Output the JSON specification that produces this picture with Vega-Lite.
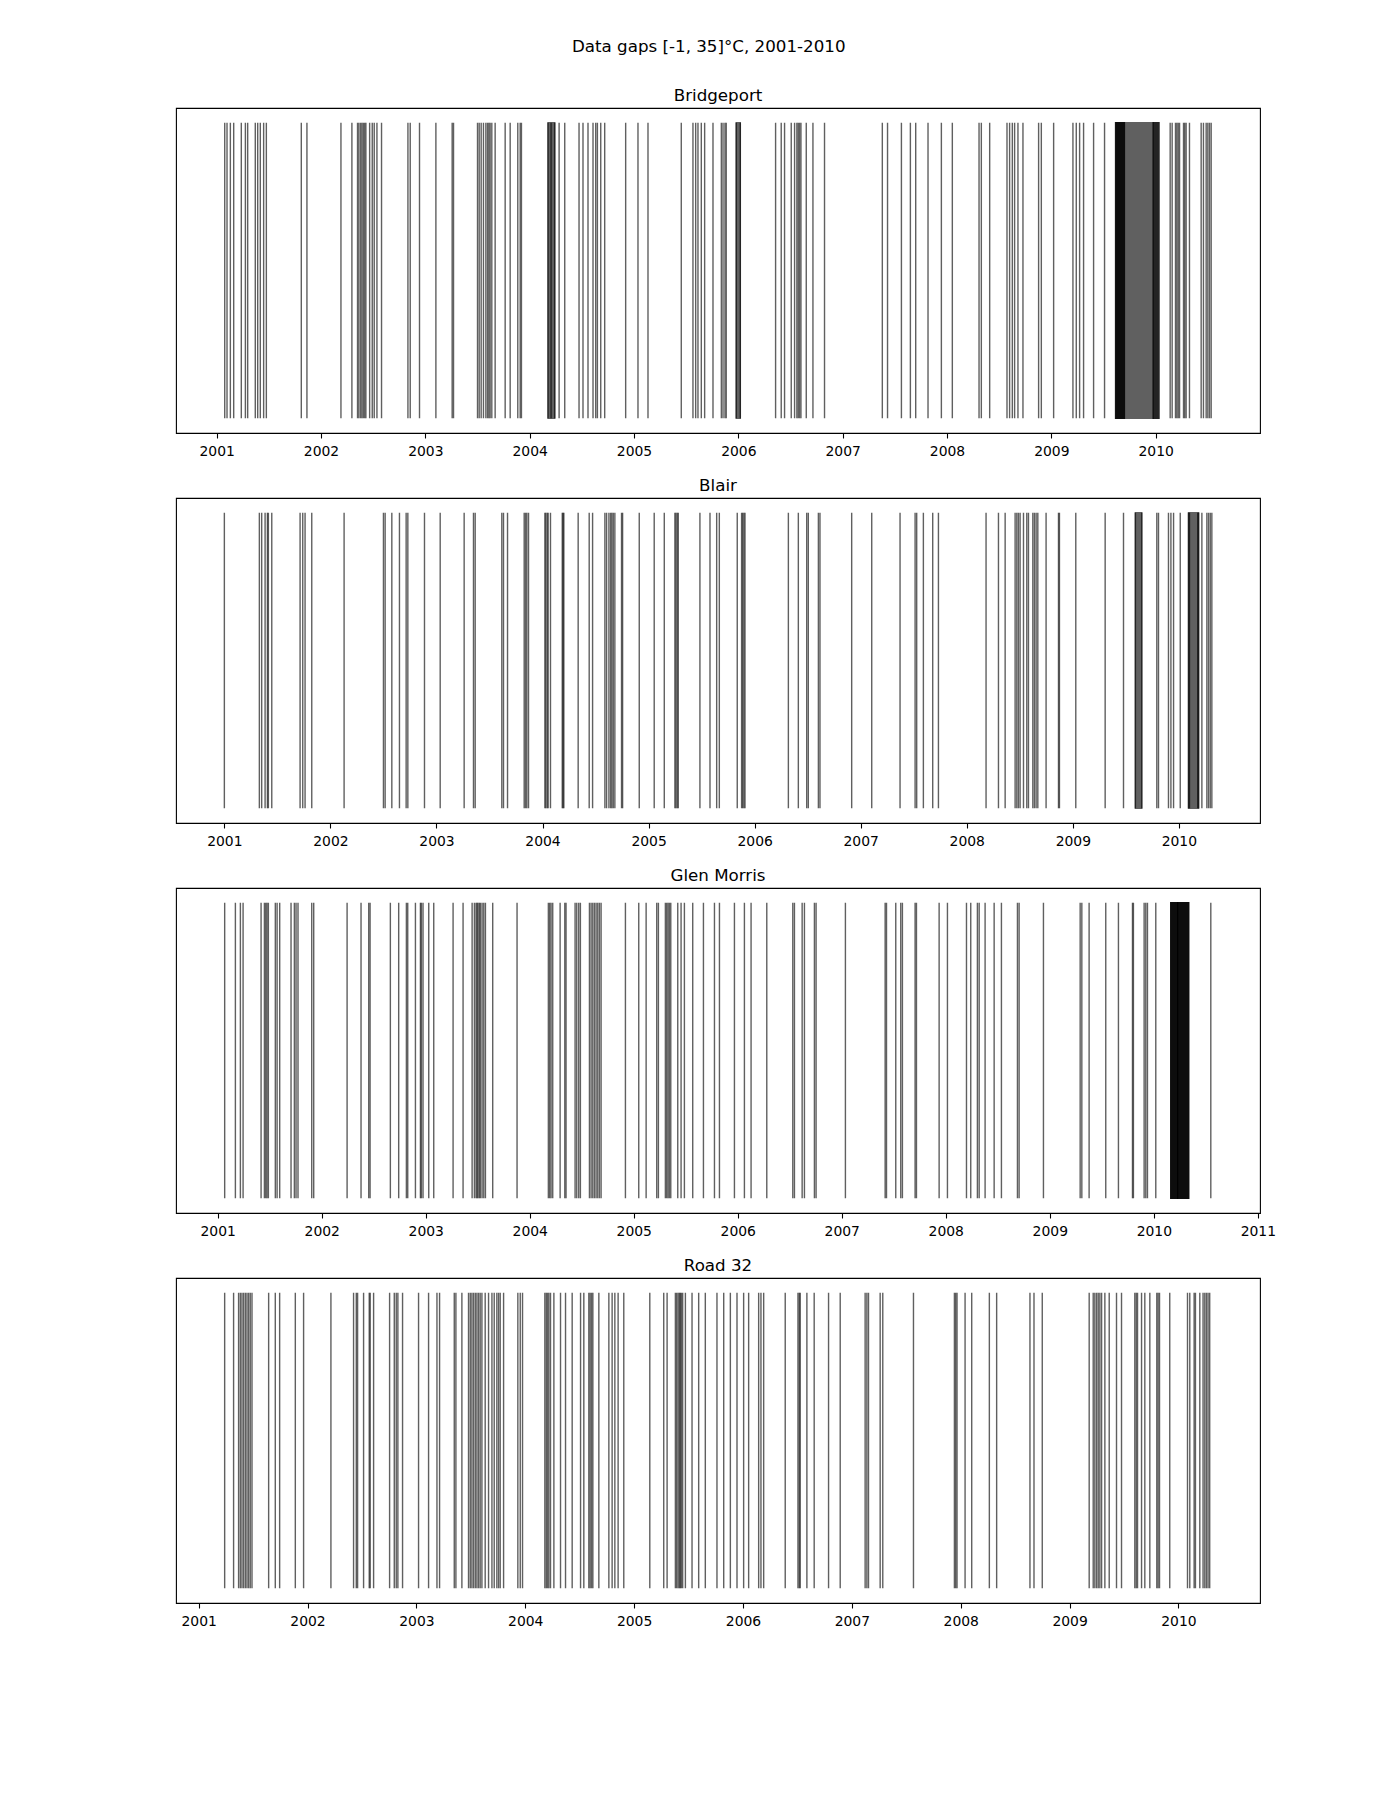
{
  "$schema": "https://vega.github.io/schema/vega-lite/v6.json",
  "background": "white",
  "padding": {"left": 175, "top": 38, "right": 0, "bottom": 0},
  "title": {"text": "Data gaps [-1, 35]°C, 2001-2010", "fontSize": 16.7, "fontWeight": "normal", "font": "DejaVu Sans", "anchor": "middle", "baseline": "alphabetic", "offset": 18.6, "dx": -17, "color": "black"},
  "datasets": {
    "bridgeport": [
      {"start":2001.077,"end":2001.077},{"start":2001.099,"end":2001.099},{"start":2001.131,"end":2001.131},{"start":2001.163,"end":2001.163},{"start":2001.236,"end":2001.236},{"start":2001.275,"end":2001.275},{"start":2001.297,"end":2001.297},{"start":2001.370,"end":2001.370},{"start":2001.393,"end":2001.393},{"start":2001.418,"end":2001.418},{"start":2001.450,"end":2001.450},{"start":2001.476,"end":2001.476},{"start":2001.811,"end":2001.811},{"start":2001.865,"end":2001.865},{"start":2002.191,"end":2002.191},{"start":2002.296,"end":2002.296},{"start":2002.350,"end":2002.350},{"start":2002.363,"end":2002.363},{"start":2002.379,"end":2002.379},{"start":2002.392,"end":2002.392},{"start":2002.405,"end":2002.405},{"start":2002.418,"end":2002.418},{"start":2002.430,"end":2002.430},{"start":2002.466,"end":2002.466},{"start":2002.491,"end":2002.491},{"start":2002.510,"end":2002.510},{"start":2002.536,"end":2002.536},{"start":2002.580,"end":2002.580},{"start":2002.833,"end":2002.833},{"start":2002.855,"end":2002.855},{"start":2002.944,"end":2002.944},{"start":2003.101,"end":2003.101},{"start":2003.257,"end":2003.257},{"start":2003.270,"end":2003.270},{"start":2003.500,"end":2003.500},{"start":2003.516,"end":2003.516},{"start":2003.535,"end":2003.535},{"start":2003.557,"end":2003.557},{"start":2003.580,"end":2003.580},{"start":2003.596,"end":2003.596},{"start":2003.609,"end":2003.609},{"start":2003.621,"end":2003.621},{"start":2003.637,"end":2003.637},{"start":2003.669,"end":2003.669},{"start":2003.765,"end":2003.765},{"start":2003.813,"end":2003.813},{"start":2003.886,"end":2003.886},{"start":2003.909,"end":2003.909},{"start":2003.921,"end":2003.921},
      {"start":2004.176,"end":2004.240},{"start":2004.176,"end":2004.176},{"start":2004.205,"end":2004.205},{"start":2004.240,"end":2004.240},{"start":2004.282,"end":2004.282},{"start":2004.336,"end":2004.336},{"start":2004.473,"end":2004.473},{"start":2004.511,"end":2004.511},{"start":2004.559,"end":2004.559},{"start":2004.607,"end":2004.607},{"start":2004.633,"end":2004.633},{"start":2004.649,"end":2004.649},{"start":2004.681,"end":2004.681},{"start":2004.719,"end":2004.719},{"start":2004.920,"end":2004.920},{"start":2005.038,"end":2005.038},{"start":2005.134,"end":2005.134},{"start":2005.453,"end":2005.453},{"start":2005.565,"end":2005.565},{"start":2005.591,"end":2005.591},{"start":2005.613,"end":2005.613},{"start":2005.645,"end":2005.645},{"start":2005.677,"end":2005.677},{"start":2005.757,"end":2005.757},{"start":2005.837,"end":2005.837},{"start":2005.853,"end":2005.853},{"start":2005.872,"end":2005.872},{"start":2005.884,"end":2005.884},{"start":2005.980,"end":2006.019},{"start":2005.980,"end":2005.980},{"start":2006.019,"end":2006.019},{"start":2006.357,"end":2006.357},{"start":2006.411,"end":2006.411},{"start":2006.443,"end":2006.443},{"start":2006.507,"end":2006.507},{"start":2006.539,"end":2006.539},{"start":2006.561,"end":2006.561},{"start":2006.574,"end":2006.574},{"start":2006.587,"end":2006.587},{"start":2006.600,"end":2006.600},{"start":2006.651,"end":2006.651},{"start":2006.715,"end":2006.715},{"start":2006.826,"end":2006.826},{"start":2007.380,"end":2007.380},{"start":2007.430,"end":2007.430},{"start":2007.563,"end":2007.563},{"start":2007.649,"end":2007.649},{"start":2007.700,"end":2007.700},{"start":2007.818,"end":2007.818},{"start":2007.946,"end":2007.946},{"start":2008.051,"end":2008.051},{"start":2008.307,"end":2008.307},{"start":2008.329,"end":2008.329},{"start":2008.409,"end":2008.409},{"start":2008.575,"end":2008.575},{"start":2008.600,"end":2008.600},{"start":2008.626,"end":2008.626},{"start":2008.648,"end":2008.648},{"start":2008.680,"end":2008.680},{"start":2008.728,"end":2008.728},{"start":2008.878,"end":2008.878},{"start":2008.904,"end":2008.904},{"start":2009.022,"end":2009.022},{"start":2009.207,"end":2009.207},{"start":2009.239,"end":2009.239},{"start":2009.271,"end":2009.271},{"start":2009.309,"end":2009.309},{"start":2009.405,"end":2009.405},{"start":2009.510,"end":2009.510},
      {"start":2009.616,"end":2009.975},{"start":2009.616,"end":2009.700},{"start":2009.620,"end":2009.700},{"start":2009.975,"end":2010.031},{"start":2009.980,"end":2010.031},
      {"start":2010.139,"end":2010.139},{"start":2010.158,"end":2010.158},{"start":2010.190,"end":2010.190},{"start":2010.203,"end":2010.203},{"start":2010.216,"end":2010.216},{"start":2010.229,"end":2010.229},{"start":2010.267,"end":2010.267},{"start":2010.279,"end":2010.279},{"start":2010.292,"end":2010.292},{"start":2010.324,"end":2010.324},{"start":2010.436,"end":2010.436},{"start":2010.458,"end":2010.458},{"start":2010.484,"end":2010.484},{"start":2010.500,"end":2010.500},{"start":2010.516,"end":2010.516},{"start":2010.532,"end":2010.532}
    ],
    "blair": [
      {"start":2001.000,"end":2001.000},{"start":2001.330,"end":2001.330},{"start":2001.352,"end":2001.352},{"start":2001.384,"end":2001.384},{"start":2001.406,"end":2001.406},{"start":2001.415,"end":2001.415},{"start":2001.447,"end":2001.447},{"start":2001.714,"end":2001.714},{"start":2001.739,"end":2001.739},{"start":2001.761,"end":2001.761},{"start":2001.824,"end":2001.824},{"start":2002.129,"end":2002.129},{"start":2002.500,"end":2002.500},{"start":2002.516,"end":2002.516},{"start":2002.579,"end":2002.579},{"start":2002.651,"end":2002.651},{"start":2002.714,"end":2002.714},{"start":2002.730,"end":2002.730},{"start":2002.887,"end":2002.887},{"start":2003.035,"end":2003.035},{"start":2003.261,"end":2003.261},{"start":2003.349,"end":2003.349},{"start":2003.365,"end":2003.365},{"start":2003.616,"end":2003.616},{"start":2003.632,"end":2003.632},{"start":2003.670,"end":2003.670},{"start":2003.827,"end":2003.827},{"start":2003.840,"end":2003.840},{"start":2003.852,"end":2003.852},{"start":2003.868,"end":2003.868},{"start":2004.022,"end":2004.022},{"start":2004.031,"end":2004.031},{"start":2004.044,"end":2004.044},{"start":2004.053,"end":2004.053},{"start":2004.075,"end":2004.075},{"start":2004.186,"end":2004.186},{"start":2004.194,"end":2004.194},{"start":2004.201,"end":2004.201},{"start":2004.336,"end":2004.336},{"start":2004.440,"end":2004.440},{"start":2004.472,"end":2004.472},{"start":2004.588,"end":2004.588},{"start":2004.604,"end":2004.604},{"start":2004.626,"end":2004.626},{"start":2004.642,"end":2004.642},{"start":2004.654,"end":2004.654},{"start":2004.667,"end":2004.667},{"start":2004.682,"end":2004.682},{"start":2004.745,"end":2004.745},{"start":2004.755,"end":2004.755},{"start":2004.912,"end":2004.912},{"start":2005.053,"end":2005.053},{"start":2005.148,"end":2005.148},{"start":2005.248,"end":2005.248},{"start":2005.258,"end":2005.258},{"start":2005.270,"end":2005.270},{"start":2005.280,"end":2005.280},{"start":2005.484,"end":2005.484},{"start":2005.579,"end":2005.579},{"start":2005.642,"end":2005.642},{"start":2005.667,"end":2005.667},{"start":2005.836,"end":2005.836},{"start":2005.877,"end":2005.877},{"start":2005.887,"end":2005.887},{"start":2005.899,"end":2005.899},{"start":2005.909,"end":2005.909},{"start":2006.318,"end":2006.318},{"start":2006.412,"end":2006.412},{"start":2006.491,"end":2006.491},{"start":2006.506,"end":2006.506},{"start":2006.601,"end":2006.601},{"start":2006.616,"end":2006.616},{"start":2006.915,"end":2006.915},{"start":2007.104,"end":2007.104},{"start":2007.371,"end":2007.371},{"start":2007.513,"end":2007.513},{"start":2007.528,"end":2007.528},{"start":2007.591,"end":2007.591},{"start":2007.679,"end":2007.679},{"start":2007.733,"end":2007.733},{"start":2008.182,"end":2008.182},{"start":2008.299,"end":2008.299},{"start":2008.362,"end":2008.362},{"start":2008.456,"end":2008.456},{"start":2008.472,"end":2008.472},{"start":2008.487,"end":2008.487},{"start":2008.503,"end":2008.503},{"start":2008.535,"end":2008.535},{"start":2008.566,"end":2008.566},{"start":2008.582,"end":2008.582},{"start":2008.623,"end":2008.623},{"start":2008.638,"end":2008.638},{"start":2008.654,"end":2008.654},{"start":2008.670,"end":2008.670},{"start":2008.748,"end":2008.748},{"start":2008.865,"end":2008.865},{"start":2008.874,"end":2008.874},{"start":2009.028,"end":2009.028},{"start":2009.305,"end":2009.305},{"start":2009.478,"end":2009.478},{"start":2009.590,"end":2009.650},{"start":2009.590,"end":2009.590},{"start":2009.650,"end":2009.650},{"start":2009.792,"end":2009.792},{"start":2009.808,"end":2009.808},{"start":2009.902,"end":2009.902},{"start":2009.925,"end":2009.925},{"start":2009.950,"end":2009.950},{"start":2010.013,"end":2010.013},{"start":2010.091,"end":2010.186},{"start":2010.091,"end":2010.091},{"start":2010.100,"end":2010.100},{"start":2010.178,"end":2010.178},{"start":2010.186,"end":2010.186},{"start":2010.217,"end":2010.217},{"start":2010.264,"end":2010.264},{"start":2010.280,"end":2010.280},{"start":2010.296,"end":2010.296},{"start":2010.311,"end":2010.311}
    ],
    "glenmorris": [
      {"start":2001.067,"end":2001.067},{"start":2001.170,"end":2001.170},{"start":2001.218,"end":2001.218},{"start":2001.244,"end":2001.244},{"start":2001.417,"end":2001.417},{"start":2001.449,"end":2001.449},{"start":2001.462,"end":2001.462},{"start":2001.474,"end":2001.474},{"start":2001.487,"end":2001.487},{"start":2001.554,"end":2001.554},{"start":2001.571,"end":2001.571},{"start":2001.596,"end":2001.596},{"start":2001.705,"end":2001.705},{"start":2001.737,"end":2001.737},{"start":2001.753,"end":2001.753},{"start":2001.772,"end":2001.772},{"start":2001.904,"end":2001.904},{"start":2001.923,"end":2001.923},{"start":2002.244,"end":2002.244},{"start":2002.378,"end":2002.378},{"start":2002.452,"end":2002.452},{"start":2002.465,"end":2002.465},{"start":2002.660,"end":2002.660},{"start":2002.740,"end":2002.740},{"start":2002.814,"end":2002.814},{"start":2002.827,"end":2002.827},{"start":2002.901,"end":2002.901},{"start":2002.949,"end":2002.949},{"start":2002.958,"end":2002.958},{"start":2002.974,"end":2002.974},{"start":2003.029,"end":2003.029},{"start":2003.077,"end":2003.077},{"start":2003.263,"end":2003.263},{"start":2003.359,"end":2003.359},{"start":2003.446,"end":2003.446},{"start":2003.468,"end":2003.468},{"start":2003.484,"end":2003.484},{"start":2003.494,"end":2003.494},{"start":2003.503,"end":2003.503},{"start":2003.516,"end":2003.516},{"start":2003.526,"end":2003.526},{"start":2003.542,"end":2003.542},{"start":2003.558,"end":2003.558},{"start":2003.574,"end":2003.574},{"start":2003.644,"end":2003.644},{"start":2003.878,"end":2003.878},{"start":2004.179,"end":2004.179},{"start":2004.192,"end":2004.192},{"start":2004.205,"end":2004.205},{"start":2004.221,"end":2004.221},{"start":2004.292,"end":2004.292},{"start":2004.337,"end":2004.337},{"start":2004.349,"end":2004.349},{"start":2004.436,"end":2004.436},{"start":2004.452,"end":2004.452},{"start":2004.471,"end":2004.471},{"start":2004.487,"end":2004.487},{"start":2004.574,"end":2004.574},{"start":2004.590,"end":2004.590},{"start":2004.606,"end":2004.606},{"start":2004.622,"end":2004.622},{"start":2004.638,"end":2004.638},{"start":2004.654,"end":2004.654},{"start":2004.670,"end":2004.670},{"start":2004.686,"end":2004.686},{"start":2004.920,"end":2004.920},{"start":2005.048,"end":2005.048},{"start":2005.119,"end":2005.119},{"start":2005.221,"end":2005.221},{"start":2005.237,"end":2005.237},{"start":2005.304,"end":2005.304},{"start":2005.317,"end":2005.317},{"start":2005.330,"end":2005.330},{"start":2005.343,"end":2005.343},{"start":2005.356,"end":2005.356},{"start":2005.423,"end":2005.423},{"start":2005.455,"end":2005.455},{"start":2005.487,"end":2005.487},{"start":2005.567,"end":2005.567},{"start":2005.670,"end":2005.670},{"start":2005.776,"end":2005.776},{"start":2005.824,"end":2005.824},{"start":2005.968,"end":2005.968},{"start":2006.064,"end":2006.064},{"start":2006.128,"end":2006.128},{"start":2006.279,"end":2006.279},{"start":2006.529,"end":2006.529},{"start":2006.545,"end":2006.545},{"start":2006.619,"end":2006.619},{"start":2006.641,"end":2006.641},{"start":2006.737,"end":2006.737},{"start":2006.753,"end":2006.753},{"start":2007.035,"end":2007.035},{"start":2007.417,"end":2007.417},{"start":2007.430,"end":2007.430},{"start":2007.519,"end":2007.519},{"start":2007.567,"end":2007.567},{"start":2007.583,"end":2007.583},{"start":2007.705,"end":2007.705},{"start":2007.718,"end":2007.718},{"start":2007.936,"end":2007.936},{"start":2008.016,"end":2008.016},{"start":2008.199,"end":2008.199},{"start":2008.240,"end":2008.240},{"start":2008.304,"end":2008.304},{"start":2008.321,"end":2008.321},{"start":2008.378,"end":2008.378},{"start":2008.465,"end":2008.465},{"start":2008.535,"end":2008.535},{"start":2008.689,"end":2008.689},{"start":2008.705,"end":2008.705},{"start":2008.939,"end":2008.939},{"start":2009.292,"end":2009.292},{"start":2009.308,"end":2009.308},{"start":2009.378,"end":2009.378},{"start":2009.538,"end":2009.538},{"start":2009.660,"end":2009.660},{"start":2009.795,"end":2009.795},{"start":2009.804,"end":2009.804},{"start":2009.907,"end":2009.907},{"start":2009.923,"end":2009.923},{"start":2009.939,"end":2009.939},{"start":2010.019,"end":2010.019},
      {"start":2010.163,"end":2010.228},{"start":2010.163,"end":2010.228},{"start":2010.165,"end":2010.226},{"start":2010.232,"end":2010.335},{"start":2010.232,"end":2010.335},{"start":2010.234,"end":2010.333},{"start":2010.548,"end":2010.548}
    ],
    "road32": [
      {"start":2001.239,"end":2001.239},{"start":2001.321,"end":2001.321},{"start":2001.367,"end":2001.367},{"start":2001.383,"end":2001.383},{"start":2001.398,"end":2001.398},{"start":2001.413,"end":2001.413},{"start":2001.429,"end":2001.429},{"start":2001.444,"end":2001.444},{"start":2001.459,"end":2001.459},{"start":2001.474,"end":2001.474},{"start":2001.490,"end":2001.490},{"start":2001.643,"end":2001.643},{"start":2001.704,"end":2001.704},{"start":2001.744,"end":2001.744},{"start":2001.888,"end":2001.888},{"start":2001.964,"end":2001.964},{"start":2002.215,"end":2002.215},{"start":2002.423,"end":2002.423},{"start":2002.448,"end":2002.448},{"start":2002.460,"end":2002.460},{"start":2002.515,"end":2002.515},{"start":2002.567,"end":2002.567},{"start":2002.576,"end":2002.576},{"start":2002.607,"end":2002.607},{"start":2002.754,"end":2002.754},{"start":2002.797,"end":2002.797},{"start":2002.815,"end":2002.815},{"start":2002.830,"end":2002.830},{"start":2002.873,"end":2002.873},{"start":2003.020,"end":2003.020},{"start":2003.112,"end":2003.112},{"start":2003.189,"end":2003.189},{"start":2003.213,"end":2003.213},{"start":2003.348,"end":2003.348},{"start":2003.363,"end":2003.363},{"start":2003.418,"end":2003.418},{"start":2003.479,"end":2003.479},{"start":2003.495,"end":2003.495},{"start":2003.510,"end":2003.510},{"start":2003.525,"end":2003.525},{"start":2003.541,"end":2003.541},{"start":2003.556,"end":2003.556},{"start":2003.571,"end":2003.571},{"start":2003.586,"end":2003.586},{"start":2003.602,"end":2003.602},{"start":2003.632,"end":2003.632},{"start":2003.663,"end":2003.663},{"start":2003.694,"end":2003.694},{"start":2003.715,"end":2003.715},{"start":2003.739,"end":2003.739},{"start":2003.755,"end":2003.755},{"start":2003.770,"end":2003.770},{"start":2003.801,"end":2003.801},{"start":2003.932,"end":2003.932},{"start":2003.954,"end":2003.954},{"start":2003.975,"end":2003.975},{"start":2004.180,"end":2004.180},{"start":2004.193,"end":2004.193},{"start":2004.205,"end":2004.205},{"start":2004.217,"end":2004.217},{"start":2004.232,"end":2004.232},{"start":2004.263,"end":2004.263},{"start":2004.324,"end":2004.324},{"start":2004.370,"end":2004.370},{"start":2004.431,"end":2004.431},{"start":2004.508,"end":2004.508},{"start":2004.538,"end":2004.538},{"start":2004.584,"end":2004.584},{"start":2004.596,"end":2004.596},{"start":2004.609,"end":2004.609},{"start":2004.621,"end":2004.621},{"start":2004.676,"end":2004.676},{"start":2004.768,"end":2004.768},{"start":2004.798,"end":2004.798},{"start":2004.823,"end":2004.823},{"start":2004.853,"end":2004.853},{"start":2004.905,"end":2004.905},{"start":2005.144,"end":2005.144},{"start":2005.272,"end":2005.272},{"start":2005.303,"end":2005.303},{"start":2005.379,"end":2005.379},{"start":2005.391,"end":2005.391},{"start":2005.404,"end":2005.404},{"start":2005.416,"end":2005.416},{"start":2005.425,"end":2005.425},{"start":2005.434,"end":2005.434},{"start":2005.446,"end":2005.446},{"start":2005.471,"end":2005.471},{"start":2005.532,"end":2005.532},{"start":2005.593,"end":2005.593},{"start":2005.654,"end":2005.654},{"start":2005.761,"end":2005.761},{"start":2005.823,"end":2005.823},{"start":2005.884,"end":2005.884},{"start":2005.945,"end":2005.945},{"start":2006.006,"end":2006.006},{"start":2006.052,"end":2006.052},{"start":2006.144,"end":2006.144},{"start":2006.165,"end":2006.165},{"start":2006.190,"end":2006.190},{"start":2006.388,"end":2006.388},{"start":2006.505,"end":2006.505},{"start":2006.517,"end":2006.517},{"start":2006.526,"end":2006.526},{"start":2006.587,"end":2006.587},{"start":2006.654,"end":2006.654},{"start":2006.786,"end":2006.786},{"start":2006.893,"end":2006.893},{"start":2007.122,"end":2007.122},{"start":2007.138,"end":2007.138},{"start":2007.153,"end":2007.153},{"start":2007.260,"end":2007.260},{"start":2007.284,"end":2007.284},{"start":2007.566,"end":2007.566},{"start":2007.942,"end":2007.942},{"start":2007.954,"end":2007.954},{"start":2007.966,"end":2007.966},{"start":2008.040,"end":2008.040},{"start":2008.101,"end":2008.101},{"start":2008.263,"end":2008.263},{"start":2008.330,"end":2008.330},{"start":2008.636,"end":2008.636},{"start":2008.673,"end":2008.673},{"start":2008.749,"end":2008.749},{"start":2009.180,"end":2009.180},{"start":2009.217,"end":2009.217},{"start":2009.232,"end":2009.232},{"start":2009.248,"end":2009.248},{"start":2009.263,"end":2009.263},{"start":2009.278,"end":2009.278},{"start":2009.294,"end":2009.294},{"start":2009.324,"end":2009.324},{"start":2009.364,"end":2009.364},{"start":2009.431,"end":2009.431},{"start":2009.477,"end":2009.477},{"start":2009.599,"end":2009.599},{"start":2009.612,"end":2009.612},{"start":2009.624,"end":2009.624},{"start":2009.661,"end":2009.661},{"start":2009.691,"end":2009.691},{"start":2009.737,"end":2009.737},{"start":2009.801,"end":2009.801},{"start":2009.813,"end":2009.813},{"start":2009.826,"end":2009.826},{"start":2009.920,"end":2009.920},{"start":2010.083,"end":2010.083},{"start":2010.104,"end":2010.104},{"start":2010.144,"end":2010.144},{"start":2010.156,"end":2010.156},{"start":2010.196,"end":2010.196},{"start":2010.226,"end":2010.226},{"start":2010.242,"end":2010.242},{"start":2010.257,"end":2010.257},{"start":2010.272,"end":2010.272},{"start":2010.287,"end":2010.287}
    ]
  },
  "spacing": 18,
  "vconcat": [
    {
      "width": 1084, "height": 325,
      "title": {"text": "Bridgeport"},
      "data": {"name": "bridgeport"},
      "mark": {"type": "rect", "fill": "black", "stroke": "black", "strokeWidth": 1.4, "opacity": 0.62},
      "encoding": {
        "x": {"field": "start", "type": "quantitative", "scale": {"domain": [2000.61, 2011.0], "nice": false, "zero": false}, "axis": {"values": [2001,2002,2003,2004,2005,2006,2007,2008,2009,2010], "format": "d", "title": null}},
        "x2": {"field": "end"},
        "y": {"datum": 0, "type": "quantitative", "scale": {"domain": [-0.05, 1.05], "nice": false, "zero": false}, "axis": null},
        "y2": {"datum": 1}
      }
    },
    {
      "width": 1084, "height": 325,
      "title": {"text": "Blair"},
      "data": {"name": "blair"},
      "mark": {"type": "rect", "fill": "black", "stroke": "black", "strokeWidth": 1.4, "opacity": 0.62},
      "encoding": {
        "x": {"field": "start", "type": "quantitative", "scale": {"domain": [2000.544, 2010.765], "nice": false, "zero": false}, "axis": {"values": [2001,2002,2003,2004,2005,2006,2007,2008,2009,2010], "format": "d", "title": null}},
        "x2": {"field": "end"},
        "y": {"datum": 0, "type": "quantitative", "scale": {"domain": [-0.05, 1.05], "nice": false, "zero": false}, "axis": null},
        "y2": {"datum": 1}
      }
    },
    {
      "width": 1084, "height": 325,
      "title": {"text": "Glen Morris"},
      "data": {"name": "glenmorris"},
      "mark": {"type": "rect", "fill": "black", "stroke": "black", "strokeWidth": 1.4, "opacity": 0.62},
      "encoding": {
        "x": {"field": "start", "type": "quantitative", "scale": {"domain": [2000.599, 2011.021], "nice": false, "zero": false}, "axis": {"values": [2001,2002,2003,2004,2005,2006,2007,2008,2009,2010,2011], "format": "d", "title": null}},
        "x2": {"field": "end"},
        "y": {"datum": 0, "type": "quantitative", "scale": {"domain": [-0.05, 1.05], "nice": false, "zero": false}, "axis": null},
        "y2": {"datum": 1}
      }
    },
    {
      "width": 1084, "height": 325,
      "title": {"text": "Road 32"},
      "data": {"name": "road32"},
      "mark": {"type": "rect", "fill": "black", "stroke": "black", "strokeWidth": 1.4, "opacity": 0.62},
      "encoding": {
        "x": {"field": "start", "type": "quantitative", "scale": {"domain": [2000.792, 2010.749], "nice": false, "zero": false}, "axis": {"values": [2001,2002,2003,2004,2005,2006,2007,2008,2009,2010], "format": "d", "title": null}},
        "x2": {"field": "end"},
        "y": {"datum": 0, "type": "quantitative", "scale": {"domain": [-0.05, 1.05], "nice": false, "zero": false}, "axis": null},
        "y2": {"datum": 1}
      }
    }
  ],
  "config": {
    "font": "DejaVu Sans",
    "view": {"stroke": "black", "strokeWidth": 1.1},
    "title": {"fontSize": 16.7, "fontWeight": "normal", "color": "black", "anchor": "middle", "baseline": "alphabetic", "offset": 3.7, "font": "DejaVu Sans"},
    "axisX": {"domain": false, "grid": false, "ticks": true, "tickColor": "black", "tickSize": 5, "tickWidth": 1.1, "labelColor": "black", "labelFontSize": 13.9, "labelFont": "DejaVu Sans", "labelPadding": 6.5, "labelFlush": false, "labelOverlap": false, "labelBound": false}
  }
}
